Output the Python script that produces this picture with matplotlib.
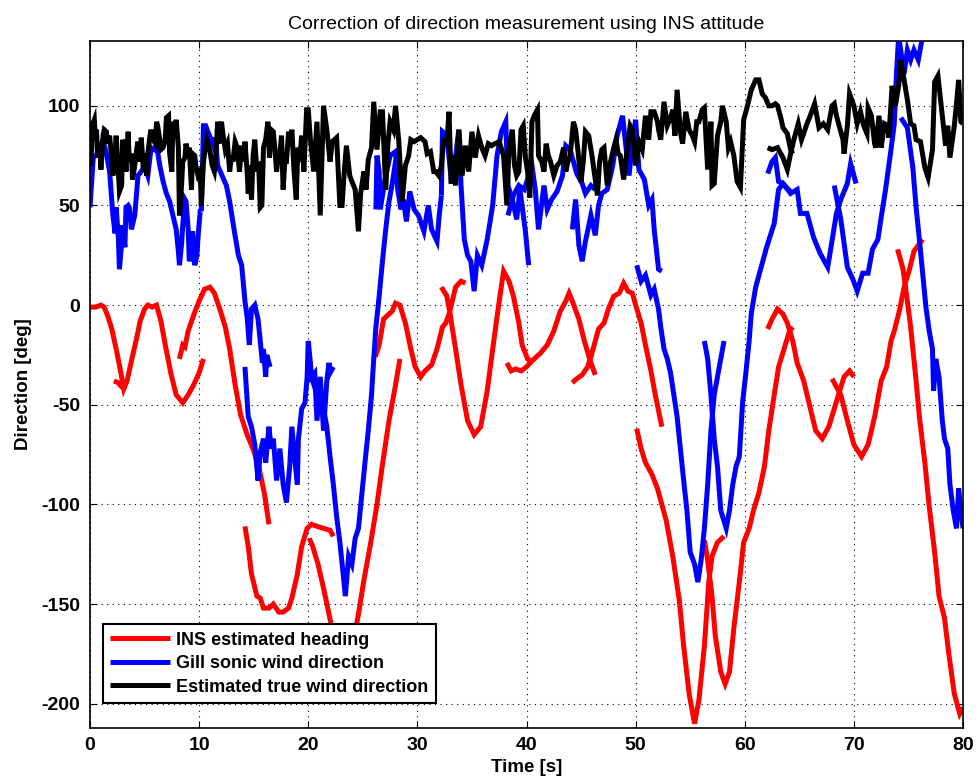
import numpy as np
import matplotlib
matplotlib.use("Agg")
import matplotlib.pyplot as plt

# Each series is logged in overlapping windows; every window is one segment of (time, deg).
heading_segments = [
    [(0, -1), (0.5, -1), (1.0, 0), (1.3, -1), (1.6, -5), (2.0, -12), (2.4, -22), (2.8, -33), (3.1, -42),
     (3.4, -38), (3.8, -28), (4.3, -16), (4.6, -8), (5.0, -2), (5.3, 0), (5.7, -1), (6.1, 0), (6.5, -8),
     (6.9, -20), (7.4, -34), (7.9, -45), (8.5, -49), (9.0, -45), (9.5, -40), (10.0, -34), (10.4, -27)],
    [(2.2, -38), (2.6, -39), (2.9, -41), (3.1, -42)],
    [(8.2, -27), (8.5, -20), (8.7, -21), (9.0, -13), (9.5, -5), (10.0, 2), (10.5, 8), (11.0, 9), (11.4, 6),
     (11.9, -2), (12.4, -11), (12.8, -22), (13.3, -40), (13.8, -55), (14.4, -65), (15.0, -73), (15.5, -82),
     (16.0, -95), (16.4, -110)],
    [(14.2, -111), (14.5, -121), (14.8, -135), (15.3, -146), (15.6, -147), (15.9, -152), (16.4, -152),
     (16.8, -150), (17.3, -154), (17.7, -154), (18.2, -152), (18.5, -147), (19.0, -135), (19.4, -121),
     (19.9, -112), (20.3, -110), (20.8, -111), (21.4, -112), (22.0, -113), (22.3, -116)],
    [(20.1, -117), (20.4, -121), (20.9, -130), (21.4, -142), (21.9, -155), (22.4, -168), (23.0, -178),
     (23.6, -180), (24.1, -170), (24.6, -155), (25.1, -138), (25.7, -120), (26.3, -100), (26.8, -80),
     (27.4, -58), (28.0, -40), (28.4, -27)],
    [(26.15, -26), (26.5, -20), (26.9, -7), (27.4, -4.5), (27.7, -3), (28.0, 1), (28.4, 0), (28.9, -9),
     (29.4, -22), (29.8, -31), (30.3, -36), (30.7, -33), (31.3, -30), (31.8, -22), (32.3, -11), (32.6, -9),
     (32.9, -4.5), (33.2, 2), (33.5, 9), (34.0, 12), (34.4, 11)],
    [(32.2, 9), (32.7, 4.5), (33.0, -4.5), (33.5, -22), (34.0, -40), (34.6, -58), (35.2, -65), (35.8, -61),
     (36.4, -43), (37.0, -18), (37.5, 2), (37.9, 17), (38.4, 12), (38.8, 4.5), (39.3, -9), (39.6, -20),
     (40.1, -27), (40.4, -28)],
    [(38.2, -29), (38.6, -33), (39.0, -32), (39.5, -33), (40.0, -31), (40.5, -28), (41.3, -24), (41.9, -20),
     (42.5, -13), (43.1, -3), (43.6, 2), (43.9, 6), (44.2, 2), (44.8, -7), (45.3, -18), (45.9, -29),
     (46.3, -35)],
    [(44.2, -39), (44.6, -37), (45.1, -35), (45.6, -31), (45.9, -26), (46.3, -18), (46.6, -12), (47.1, -9),
     (47.5, -2), (48.0, 4.5), (48.5, 6), (48.9, 11), (49.3, 7), (49.7, 6), (50.0, 0), (50.5, -9),
     (50.9, -20), (51.4, -33), (51.8, -45), (52.1, -53), (52.4, -61)],
    [(50.1, -62), (50.5, -72), (50.9, -79), (51.5, -85), (52.0, -92), (52.4, -100), (52.8, -108),
     (53.4, -126), (54.0, -148), (54.4, -171), (54.9, -195), (55.4, -210), (55.8, -198), (56.3, -171),
     (56.7, -139), (57.0, -126), (57.5, -119), (58.1, -116)],
    [(56.3, -118), (56.6, -128), (57.0, -146), (57.3, -166), (57.8, -184), (58.2, -190), (58.6, -184),
     (59.0, -162), (59.5, -139), (59.9, -119), (60.4, -112), (60.8, -103), (61.3, -94), (61.8, -81),
     (62.2, -63), (62.7, -45), (63.1, -31), (63.6, -22), (64.1, -13), (64.4, -11)],
    [(62.1, -12), (62.5, -7), (63.0, -2), (63.5, -4.5), (63.9, -9), (64.4, -18), (64.8, -29), (65.4, -38),
     (66.1, -54), (66.5, -63), (67.1, -67), (67.7, -61), (68.2, -52), (68.7, -43), (69.1, -36),
     (69.6, -33), (70.0, -36)],
    [(68.0, -37), (68.8, -45), (69.4, -58), (70.0, -70), (70.7, -76), (71.3, -70), (71.9, -56), (72.5, -38),
     (73.0, -31), (73.4, -18), (73.7, -13), (74.2, -2), (74.6, 9), (75.1, 18), (75.5, 27), (76.3, 33)],
    [(74.0, 28), (74.5, 18), (74.9, 2), (75.2, -11), (75.7, -38), (76.0, -56), (76.5, -79), (76.9, -101),
     (77.4, -124), (77.8, -146), (78.3, -157), (78.7, -175), (79.2, -195), (79.7, -205), (80.0, -202)],
]

sonic_segments = [
    [(0, 49), (0.3, 74), (0.7, 76), (1.2, 83), (1.5, 76), (1.8, 67), (2.1, 45), (2.3, 36), (2.4, 49),
     (2.6, 34), (2.7, 18), (2.9, 31), (3.0, 40), (3.2, 29), (3.3, 49), (3.5, 50), (3.6, 49), (3.8, 38),
     (4.1, 45), (4.3, 58), (4.4, 65), (4.7, 67), (5.0, 70), (5.3, 65), (5.6, 79), (5.9, 78), (6.1, 80),
     (6.4, 70), (6.7, 62), (7.0, 56), (7.3, 52), (7.6, 45), (7.9, 38), (8.1, 27), (8.2, 20), (8.4, 31),
     (8.5, 40), (8.7, 53), (8.8, 52), (9.0, 38), (9.1, 22), (9.3, 27), (9.4, 37), (9.6, 20), (9.8, 25),
     (9.9, 34), (10.1, 47), (10.2, 47)],
    [(10.2, 47), (10.4, 90), (10.6, 90), (10.8, 87), (11.1, 83), (11.3, 80), (11.5, 84), (11.7, 70),
     (12.1, 65), (12.5, 60), (12.8, 52), (13.2, 38), (13.6, 25), (13.9, 20), (14.2, 2), (14.4, -6),
     (14.6, -20), (14.8, -2), (15.1, 0), (15.4, -7), (15.6, -18), (15.8, -29), (15.9, -22), (16.1, -36),
     (16.2, -25), (16.5, -31)],
    [(14.2, -31), (14.5, -56), (14.8, -61), (15.1, -70), (15.4, -88), (15.6, -74), (15.9, -67), (16.1, -79),
     (16.4, -61), (16.6, -72), (16.8, -67), (17.1, -88), (17.4, -72), (17.7, -90), (18.0, -99), (18.3, -81),
     (18.5, -61), (18.8, -79), (19.0, -90), (19.1, -67), (19.4, -52), (19.7, -49), (19.9, -36), (20.0, -18),
     (20.2, -29), (20.3, -36), (20.6, -34), (20.8, -58), (21.1, -36), (21.4, -63), (21.7, -38), (21.9, -29),
     (22.0, -34), (22.3, -31)],
    [(20.3, -36), (20.8, -45), (21.4, -52), (21.7, -61), (22.0, -76), (22.3, -90), (22.6, -106),
     (22.9, -119), (23.2, -135), (23.4, -146), (23.7, -126), (24.0, -130), (24.3, -117), (24.6, -112),
     (25.0, -90), (25.2, -79), (25.5, -63), (25.8, -45), (26.0, -27), (26.2, -11), (26.5, 4.5), (26.8, 22),
     (27.1, 38), (27.4, 52), (27.7, 61), (28.0, 72), (28.2, 76), (28.4, 60)],
    [(26.2, 48), (26.3, 75), (26.5, 67), (26.6, 48), (27.0, 62), (27.5, 75), (28.0, 77), (28.2, 58),
     (28.5, 48), (28.7, 53), (29.0, 42), (29.3, 57), (29.7, 48), (30.1, 45), (30.6, 37), (31.0, 50),
     (31.3, 38), (31.8, 32), (32.0, 45), (32.2, 55)],
    [(32.2, 55), (32.3, 87), (32.7, 85), (33.1, 63), (33.4, 70), (33.8, 88), (34.0, 60), (34.3, 33),
     (34.6, 25), (34.9, 22), (35.2, 7), (35.5, 25), (35.9, 20), (36.4, 33), (36.9, 50), (37.3, 75),
     (37.7, 87), (38.1, 92), (38.3, 60), (38.7, 53), (39.1, 43), (39.4, 58), (39.9, 37), (40.2, 20)],
    [(38.3, 45), (38.8, 55), (39.3, 60), (39.8, 58), (40.2, 65), (40.5, 70), (40.8, 58), (41.1, 38),
     (41.6, 60), (41.9, 48), (42.3, 53), (42.8, 57), (43.3, 65), (43.6, 80), (44.0, 78), (44.3, 72),
     (44.6, 66), (45.1, 61), (45.4, 56), (45.9, 60), (46.3, 58)],
    [(44.2, 38), (44.5, 53), (44.8, 30), (45.1, 22), (45.4, 32), (45.9, 45), (46.3, 35), (46.6, 50),
     (46.9, 56), (47.4, 58), (47.9, 70), (48.3, 85), (48.8, 95), (49.1, 80), (49.4, 65), (49.7, 82),
     (50.0, 93), (50.3, 68), (50.8, 63), (51.2, 50), (51.5, 53), (51.7, 38), (52.1, 18), (52.4, 17)],
    [(50.1, 20), (50.5, 12), (50.9, 15), (51.4, 5), (51.7, 8), (52.1, -2), (52.3, -11),
     (52.6, -22), (52.9, -27), (53.2, -34), (53.5, -45), (53.8, -56), (54.1, -72), (54.4, -88),
     (54.7, -103), (55.0, -124), (55.4, -130), (55.7, -139), (56.0, -128), (56.3, -112), (56.6, -90),
     (56.9, -63), (57.2, -45), (57.5, -36), (57.8, -27), (58.1, -18)],
    [(56.3, -18), (56.6, -27), (56.9, -45), (57.2, -67), (57.5, -81), (57.8, -103), (58.3, -112),
     (58.6, -103), (58.9, -90), (59.2, -81), (59.5, -76), (59.8, -49), (60.1, -34), (60.4, -18), (60.6, -4),
     (61.0, 9), (61.5, 19), (62.0, 29), (62.7, 41), (63.1, 58), (63.5, 61), (64.0, 58), (64.4, 56)],
    [(62.1, 66), (62.5, 72), (62.8, 74), (63.1, 62), (63.5, 61), (64.2, 56), (64.8, 58), (65.1, 46),
     (65.7, 46), (66.3, 34), (66.9, 26), (67.6, 19), (67.9, 29), (68.4, 46), (68.8, 53), (69.4, 61),
     (69.7, 71), (70.2, 61)],
    [(68.2, 60), (68.8, 43), (69.4, 19), (69.9, 13), (70.3, 7), (70.8, 16), (71.3, 16), (71.7, 28),
     (72.2, 33), (72.5, 44), (72.9, 58), (73.4, 78), (73.7, 91), (73.9, 116), (74.1, 135), (74.6, 116),
     (74.9, 128), (75.2, 123), (75.5, 128), (75.9, 123), (76.3, 135)],
    [(74.3, 94), (74.9, 89), (75.4, 69), (75.7, 49), (76.0, 33), (76.3, 16), (76.6, -1), (76.9, -13),
     (77.2, -22), (77.3, -43), (77.5, -27), (77.8, -36), (78.1, -58), (78.3, -67), (78.6, -72), (78.8, -90),
     (79.1, -103), (79.4, -112), (79.6, -92), (79.8, -103), (80.0, -112)],
]

true_segments = [
    [(0.1, 70), (0.2, 90), (0.4, 93), (0.5, 83), (0.6, 88), (0.7, 74), (0.9, 81), (1.0, 68), (1.2, 85),
     (1.3, 88), (1.5, 87), (1.6, 81), (1.8, 85), (1.9, 79), (2.1, 65), (2.3, 76), (2.4, 85), (2.6, 67),
     (2.7, 57), (2.9, 60), (3.0, 83), (3.2, 75), (3.3, 67), (3.5, 87), (3.6, 72), (3.8, 76), (3.9, 63),
     (4.1, 70), (4.3, 79), (4.4, 82), (4.6, 72), (4.7, 84), (4.9, 67), (5.0, 76), (5.2, 65), (5.3, 76),
     (5.5, 85), (5.6, 88), (5.8, 83), (6.0, 81), (6.1, 92), (6.2, 90), (6.4, 83), (6.5, 78), (6.7, 79),
     (6.9, 83), (7.0, 94), (7.2, 95), (7.3, 76), (7.5, 67), (7.6, 92), (7.8, 88), (7.9, 93), (8.1, 79),
     (8.2, 45), (8.4, 61), (8.5, 72), (8.7, 74), (8.8, 81), (9.0, 75), (9.1, 79), (9.3, 58), (9.4, 76),
     (9.6, 75), (9.7, 70), (9.9, 65), (10.1, 67), (10.2, 50), (10.4, 72), (10.5, 76), (10.7, 83),
     (10.9, 79), (11.0, 77), (11.2, 70), (11.4, 67), (11.5, 72), (11.7, 92), (11.8, 81), (12.05, 92),
     (12.2, 85), (12.4, 78), (12.6, 81), (12.8, 67), (12.97, 75), (13.1, 72), (13.3, 82), (13.5, 79),
     (13.7, 67), (13.9, 80), (14.1, 72), (14.2, 82), (14.4, 67), (14.5, 56), (14.65, 70), (14.8, 53),
     (14.95, 75), (15.1, 83), (15.3, 67), (15.45, 72), (15.6, 49), (15.75, 50), (15.9, 79), (16.1, 83),
     (16.3, 92), (16.45, 74), (16.6, 88), (16.8, 87), (16.95, 78), (17.1, 67), (17.25, 75), (17.4, 76),
     (17.55, 85), (17.7, 58), (17.85, 72), (18.0, 72), (18.2, 87), (18.35, 80), (18.5, 88), (18.7, 67),
     (18.9, 53), (19.05, 79), (19.2, 72), (19.4, 85), (19.6, 67), (19.85, 98), (20.0, 98), (20.2, 83),
     (20.5, 67), (20.8, 92), (21.1, 45), (21.4, 100), (21.7, 88), (22.0, 72), (22.2, 82), (22.6, 84),
     (22.9, 50), (23.1, 50), (23.3, 67), (23.5, 80), (23.8, 65), (24.0, 62), (24.3, 58), (24.6, 37),
     (24.8, 56), (25.1, 67), (25.3, 58), (25.5, 73), (25.8, 79), (26.0, 102), (26.3, 78), (26.6, 97),
     (26.8, 97), (27.1, 58), (27.3, 81), (27.5, 92), (27.8, 88), (28.0, 100), (28.3, 82), (28.6, 52),
     (28.9, 70), (29.2, 75), (29.4, 83), (29.7, 82), (30.0, 83), (30.3, 84), (30.7, 82), (30.9, 76),
     (31.2, 77), (31.5, 67), (31.7, 67), (31.96, 65), (32.2, 70), (32.4, 82), (32.7, 81), (32.9, 97),
     (33.1, 61), (33.2, 75), (33.5, 60), (33.8, 88), (34.1, 65), (34.4, 80), (34.7, 67), (35.0, 87),
     (35.3, 74), (35.6, 85), (35.9, 79), (36.2, 75), (36.5, 81), (36.8, 80), (37.1, 81), (37.5, 82),
     (37.9, 75), (38.2, 50), (38.4, 79), (38.7, 88), (38.9, 70), (39.1, 65), (39.3, 67), (39.5, 88),
     (39.7, 90), (39.9, 74), (40.1, 67), (40.3, 54), (40.5, 92), (40.7, 95), (41.0, 98), (41.1, 75),
     (41.4, 72), (41.6, 67), (41.8, 81), (42.0, 75), (42.2, 72), (42.5, 65), (42.8, 70), (43.1, 72),
     (43.4, 79), (43.6, 67), (43.8, 72), (44.0, 75), (44.3, 92), (44.5, 88), (44.7, 78), (45.0, 62),
     (45.2, 72), (45.4, 87), (45.7, 85), (46.0, 75), (46.2, 67), (46.5, 55), (46.7, 72), (46.9, 78),
     (47.1, 79), (47.4, 60), (47.7, 72), (48.0, 79), (48.2, 83), (48.4, 76), (48.6, 75), (48.9, 63),
     (49.2, 77), (49.5, 90), (49.7, 88), (50.0, 70), (50.3, 82), (50.6, 78), (50.9, 95), (51.2, 83),
     (51.4, 97), (51.7, 97), (52.0, 92), (52.1, 88), (52.3, 83), (52.6, 102), (52.9, 90), (53.2, 94),
     (53.4, 98), (53.6, 85), (53.8, 108), (54.1, 87), (54.3, 81), (54.6, 97), (54.9, 88), (55.2, 85),
     (55.4, 82), (55.6, 92), (55.8, 92), (56.1, 98), (56.3, 99), (56.6, 68), (56.9, 92), (57.0, 60),
     (57.2, 61), (57.5, 85), (57.8, 92), (57.95, 100), (58.3, 92), (58.5, 79), (58.7, 82), (59.0, 75),
     (59.3, 62), (59.6, 59), (59.9, 93), (60.2, 99), (60.6, 108), (61.0, 113), (61.3, 113), (61.6, 106),
     (61.9, 104), (62.2, 100), (62.5, 100), (62.8, 101), (63.0, 100), (63.3, 94), (63.5, 89), (63.9, 86),
     (64.2, 78), (64.4, 76)],
    [(62.1, 79), (62.5, 78), (63.0, 79), (63.5, 74), (63.9, 68), (64.2, 76), (64.5, 83), (64.9, 91),
     (65.2, 83), (65.7, 91), (66.0, 95), (66.4, 101), (66.8, 89), (67.2, 91), (67.6, 88), (68.0, 100),
     (68.2, 101), (68.4, 95), (68.7, 89), (69.0, 83), (69.1, 76), (69.4, 90), (69.6, 106), (70.0, 100),
     (70.3, 91), (70.6, 97), (70.9, 90), (71.2, 86), (71.3, 99), (71.6, 95), (71.9, 81), (72.0, 79),
     (72.3, 95), (72.5, 79), (72.8, 91), (73.1, 90), (73.2, 84), (73.5, 110), (73.8, 100), (74.1, 110),
     (74.3, 123), (74.6, 113), (74.9, 103), (75.2, 91), (75.5, 90), (75.7, 83), (76.1, 82), (76.5, 69),
     (76.8, 64), (77.2, 78), (77.4, 112), (77.7, 115), (78.0, 100), (78.4, 80), (78.6, 90), (78.8, 74),
     (79.2, 90), (79.4, 101), (79.6, 113), (79.8, 92), (80.0, 91)],
]

x_ticks = [0, 10, 20, 30, 40, 50, 60, 70, 80]
y_ticks = [-200, -150, -100, -50, 0, 50, 100]

plt.rcParams['font.family'] = ['Liberation Sans', 'DejaVu Sans']
plt.rcParams['axes.unicode_minus'] = False


def plot_segments(ax, segments, color, label):
    for k, seg in enumerate(segments):
        t, v = zip(*seg)
        ax.plot(t, v, color=color, lw=3.6, solid_capstyle='butt', solid_joinstyle='miter',
                label=label if k == 0 else None)


fig = plt.figure(figsize=(9.78, 7.78), dpi=100)
ax = fig.add_axes([0.092, 0.0647, 0.8927, 0.8826])

plot_segments(ax, heading_segments, '#ff0000', 'INS estimated heading')
plot_segments(ax, sonic_segments, '#0000ff', 'Gill sonic wind direction')
plot_segments(ax, true_segments, '#000000', 'Estimated true wind direction')

ax.set_xlim(0, 80)
ax.set_ylim(-212, 132.5)
ax.set_xticks(x_ticks)
ax.set_yticks(y_ticks)
ax.set_xticklabels([str(v) for v in x_ticks])
ax.set_yticklabels([str(v) for v in y_ticks])
ax.tick_params(direction='in', length=5, width=0.8, top=True, right=True,
               labelsize=14, pad=7)
for lab in ax.get_xticklabels() + ax.get_yticklabels():
    lab.set_fontweight('bold')
ax.grid(True, color='black', linestyle=(0, (1, 4)), linewidth=0.8)
for sp in ax.spines.values():
    sp.set_linewidth(1.2)

ax.set_title('Correction of direction measurement using INS attitude',
             fontsize=14, pad=9)
ax.set_xlabel('Time [s]', fontsize=13.5, fontweight='bold', labelpad=3)
ax.set_ylabel('Direction [deg]', fontsize=13.5, fontweight='bold', labelpad=7)

leg = ax.legend(loc='lower left', bbox_to_anchor=(0.0149, 0.036), borderaxespad=0,
                prop={'size': 13, 'weight': 'bold'}, handlelength=3.3, handletextpad=0.35,
                labelspacing=0.36, borderpad=0.4, fancybox=False, framealpha=1,
                edgecolor='black')
leg.get_frame().set_linewidth(1.5)

fig.savefig('out.png', dpi=100)
